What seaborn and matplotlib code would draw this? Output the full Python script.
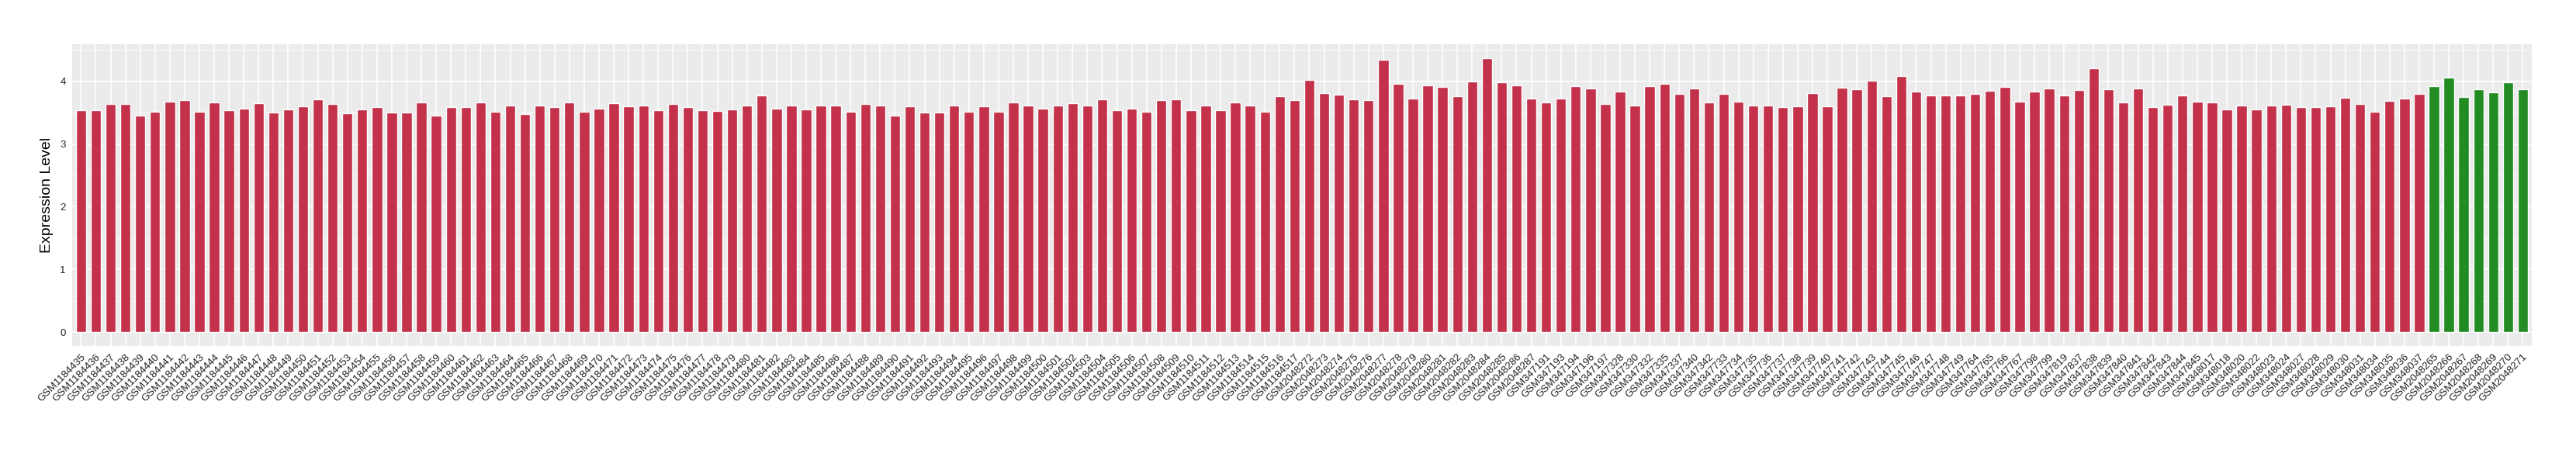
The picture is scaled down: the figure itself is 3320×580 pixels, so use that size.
import pandas as pd
import numpy as np
import matplotlib
matplotlib.use("Agg")
import matplotlib.pyplot as plt
from matplotlib.ticker import MultipleLocator
import seaborn as sns

# sample ids, in plotting order
samples_1184 = [f"GSM{n}" for n in range(1184435, 1184518)]
samples_2048_a = [f"GSM{n}" for n in range(2048272, 2048288)]
samples_347_a = ["GSM347191", "GSM347193", "GSM347194", "GSM347196", "GSM347197",
                 "GSM347328", "GSM347330", "GSM347332", "GSM347335", "GSM347337",
                 "GSM347340", "GSM347342"]
samples_347_b = [f"GSM{n}" for n in range(347733, 347750)]
samples_347_c = ["GSM347764", "GSM347765", "GSM347766", "GSM347767", "GSM347798",
                 "GSM347799", "GSM347819", "GSM347837", "GSM347838", "GSM347839",
                 "GSM347840", "GSM347841", "GSM347842", "GSM347843", "GSM347844",
                 "GSM347845"]
samples_348 = ["GSM348017", "GSM348018", "GSM348020", "GSM348022", "GSM348023",
               "GSM348024", "GSM348027", "GSM348028", "GSM348029", "GSM348030",
               "GSM348031", "GSM348034", "GSM348035", "GSM348036", "GSM348037"]
samples_green = [f"GSM{n}" for n in range(2048265, 2048272)]

# expression values
values_red = [
    3.54, 3.54, 3.635, 3.635, 3.46, 3.52, 3.68, 3.70, 3.51, 3.66,
    3.54, 3.57, 3.65, 3.50, 3.55, 3.60, 3.71, 3.635, 3.49, 3.55,
    3.585, 3.50, 3.50, 3.66, 3.46, 3.585, 3.585, 3.66, 3.51, 3.62,
    3.475, 3.61, 3.585, 3.67, 3.52, 3.56, 3.65, 3.60, 3.62, 3.54,
    3.635, 3.585, 3.536, 3.524, 3.548, 3.61, 3.77, 3.56, 3.62, 3.55,
    3.62, 3.62, 3.52, 3.635, 3.61, 3.45, 3.60, 3.50, 3.50, 3.61,
    3.51, 3.60, 3.52, 3.66, 3.61, 3.56, 3.62, 3.65, 3.61, 3.71,
    3.54, 3.56, 3.51, 3.70, 3.71, 3.54, 3.62, 3.54, 3.67, 3.62,
    3.52, 3.76, 3.70, 4.025, 3.815, 3.79, 3.71, 3.70, 4.35, 3.96,
    3.72, 3.94, 3.91, 3.76, 4.00, 4.37, 3.99, 3.94, 3.72, 3.67,
    3.72, 3.93, 3.89, 3.635, 3.84, 3.61, 3.93, 3.96, 3.80, 3.89,
    3.67, 3.80, 3.68, 3.62, 3.61, 3.585, 3.60, 3.815, 3.60, 3.90,
    3.875, 4.01, 3.76, 4.085, 3.84, 3.77, 3.77, 3.77, 3.80, 3.85,
    3.91, 3.68, 3.84, 3.89, 3.78, 3.865, 4.21, 3.875, 3.665, 3.89,
    3.59, 3.63, 3.78, 3.68, 3.665, 3.555, 3.615, 3.555, 3.615, 3.63,
    3.59, 3.59, 3.60, 3.74, 3.64, 3.51, 3.69, 3.72, 3.80,
]
values_green = [3.93, 4.06, 3.75, 3.875, 3.83, 3.99, 3.875]

red_color = "#C3314A"
green_color = "#228B22"

samples_red = (samples_1184 + samples_2048_a + samples_347_a + samples_347_b
               + samples_347_c + samples_348)
df = pd.DataFrame({
    "sample": samples_red + samples_green,
    "value": values_red + values_green,
    "group": ["red"] * len(samples_red) + ["green"] * len(samples_green),
})

sns.set_theme(style="darkgrid", rc={
    "axes.facecolor": "#EBEBEB",
    "grid.color": "white",
})
plt.rcParams["font.family"] = ["Liberation Sans", "DejaVu Sans"]

fig, ax = plt.subplots(figsize=(33.2, 5.8), dpi=100)
fig.subplots_adjust(left=0.028, right=0.9828, top=0.9012, bottom=0.2314)

sns.barplot(data=df, x="sample", y="value", hue="group",
            palette={"red": red_color, "green": green_color},
            order=df["sample"], dodge=False, width=0.7, saturation=1,
            legend=False, ax=ax)

n = len(df)
ymax = df["value"].max() * 1.05
ax.set_xlim(-0.6, n - 1 + 0.6)
ax.set_ylim(-df["value"].max() * 0.05, ymax)

ax.yaxis.set_major_locator(MultipleLocator(1))
ax.yaxis.set_minor_locator(MultipleLocator(0.5))
ax.grid(which="major", axis="both", color="white", linewidth=1.1)
ax.grid(which="minor", axis="y", color="white", linewidth=0.55)
ax.set_axisbelow(True)
for s in ax.spines.values():
    s.set_visible(False)

ax.tick_params(axis="both", which="major", length=4, width=0.8, color="#333333",
               labelsize=9.5, labelcolor="#222222", pad=2)
ax.tick_params(which="minor", length=0)
plt.setp(ax.get_xticklabels(), rotation=45, ha="right", va="top",
         rotation_mode="anchor")

ax.set_xlabel("")
ax.set_ylabel("Expression Level", fontsize=14, color="black", labelpad=6)

fig.savefig("out.png", dpi=100)
